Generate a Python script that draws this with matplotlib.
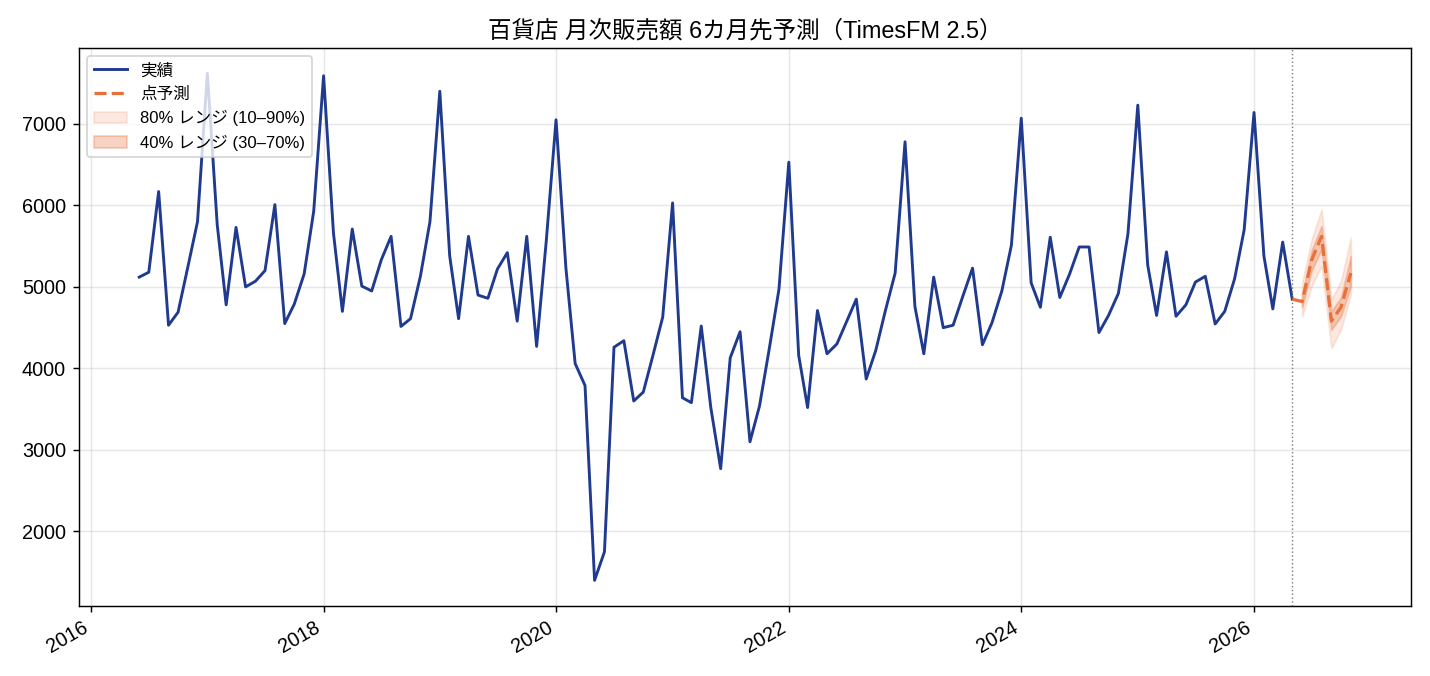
import matplotlib
matplotlib.use('Agg')
import matplotlib.pyplot as plt
import matplotlib.dates as mdates
import pandas as pd

plt.rcParams['font.family'] = ['Liberation Sans', 'Noto Sans CJK JP', 'DejaVu Sans']

# Monthly actuals, 2016-06 .. 2026-05
actual_start = '2016-06-01'
actual = [
    5120, 5180, 6170, 4530, 4690, 5250, 5800,
    7620, 5760, 4780, 5730, 5000, 5070, 5200, 6010, 4550, 4790, 5160, 5930,
    7590, 5660, 4700, 5710, 5010, 4950, 5330, 5620, 4515, 4610, 5130, 5800,
    7400, 5380, 4610, 5620, 4900, 4860, 5220, 5420, 4580, 5620, 4270, 5550,
    7050, 5230, 4060, 3790, 1400, 1750, 4260, 4340, 3600, 3710, 4170, 4630,
    6030, 3640, 3580, 4520, 3520, 2770, 4130, 4450, 3100, 3540, 4250, 4970,
    6530, 4160, 3520, 4710, 4180, 4300, 4570, 4850, 3870, 4220, 4720, 5170,
    6780, 4760, 4180, 5120, 4500, 4530, 4880, 5230, 4290, 4560, 4950, 5510,
    7070, 5050, 4750, 5610, 4870, 5160, 5490, 5490, 4440, 4650, 4920, 5650,
    7230, 5270, 4650, 5430, 4640, 4780, 5060, 5130, 4545, 4700, 5100, 5700,
    7140, 5380, 4730, 5550, 4850,
]

# 6-month forecast, 2026-06 .. 2026-11
fc_start = '2026-06-01'
fc_point = [4820, 5330, 5620, 4580, 4750, 5170]
fc_q10 = [4640, 5010, 5255, 4250, 4475, 4906]
fc_q90 = [5060, 5584, 5953, 4845, 5070, 5605]
fc_q30 = [4750, 5200, 5460, 4475, 4640, 5010]
fc_q70 = [4900, 5450, 5748, 4701, 4870, 5378]

act_dates = pd.date_range(actual_start, periods=len(actual), freq='MS')
fc_dates = pd.date_range(fc_start, periods=len(fc_point), freq='MS')

blue = '#1f3a8f'
orange = '#e8703a'

fig, ax = plt.subplots(figsize=(11, 5.2), dpi=130)

ax.plot(act_dates, actual, color=blue, lw=1.6, label='実績')
# connect forecast to last actual point
line_x = [act_dates[-1]] + list(fc_dates)
line_y = [actual[-1]] + fc_point
ax.plot(line_x, line_y, color=orange, lw=1.8, ls='--', label='点予測')
ax.fill_between(fc_dates, fc_q10, fc_q90, color=orange, alpha=0.15, label='80% レンジ (10–90%)')
ax.fill_between(fc_dates, fc_q30, fc_q70, color=orange, alpha=0.3, label='40% レンジ (30–70%)')

ax.axvline(act_dates[-1], color='gray', lw=0.8, ls=':')

ax.set_title('百貨店 月次販売額 6カ月先予測（TimesFM 2.5）', fontsize=13)
ax.grid(True, alpha=0.3)
ax.legend(loc='upper left', fontsize=9.2)
ax.tick_params(labelsize=11)

ax.xaxis.set_major_locator(mdates.YearLocator(2))
ax.xaxis.set_major_formatter(mdates.DateFormatter('%Y'))
fig.autofmt_xdate()

plt.subplots_adjust(left=0.055, right=0.987, top=0.929, bottom=0.104)
plt.savefig('out.png', dpi=130)
